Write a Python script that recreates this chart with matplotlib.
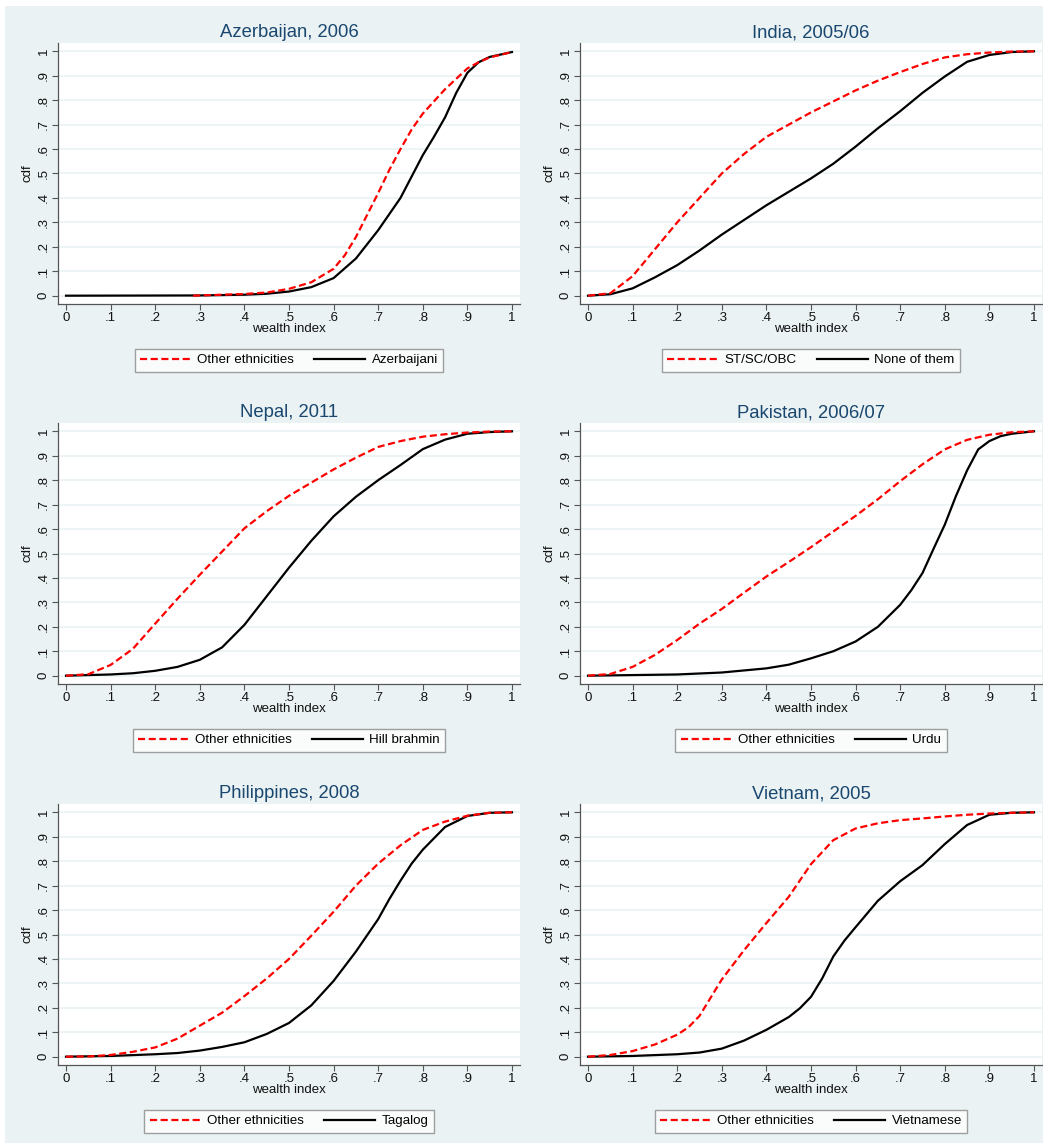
import numpy as np
import matplotlib
matplotlib.use("Agg")
import matplotlib.pyplot as plt
from matplotlib.patches import Rectangle

plt.rcParams['font.family'] = ['Liberation Sans', 'DejaVu Sans']

BG = "#EAF2F3"
NAVY = "#1A476F"

# ---- data (wealth index -> cdf) ----
titles = ["Azerbaijan, 2006", "India, 2005/06", "Nepal, 2011",
          "Pakistan, 2006/07", "Philippines, 2008", "Vietnam, 2005"]
red_labels = ["Other ethnicities", "ST/SC/OBC", "Other ethnicities",
              "Other ethnicities", "Other ethnicities", "Other ethnicities"]
black_labels = ["Azerbaijani", "None of them", "Hill brahmin",
                "Urdu", "Tagalog", "Vietnamese"]

aze_red_x = [0.285, 0.4, 0.45, 0.5, 0.55, 0.6, 0.625, 0.65, 0.675, 0.7, 0.725, 0.75, 0.775, 0.8, 0.85, 0.9, 0.925, 0.95, 1.0]
aze_red_y = [0.0, 0.007, 0.013, 0.028, 0.055, 0.11, 0.165, 0.24, 0.33, 0.42, 0.515, 0.60, 0.68, 0.745, 0.845, 0.93, 0.955, 0.975, 0.997]
aze_blk_x = [0.0, 0.3, 0.4, 0.45, 0.5, 0.55, 0.6, 0.65, 0.7, 0.75, 0.8, 0.825, 0.85, 0.875, 0.9, 0.925, 0.95, 1.0]
aze_blk_y = [0.0, 0.001, 0.004, 0.008, 0.017, 0.035, 0.072, 0.152, 0.268, 0.40, 0.575, 0.65, 0.73, 0.83, 0.912, 0.955, 0.977, 0.997]

ind_red_x = [0.0, 0.05, 0.1, 0.15, 0.2, 0.25, 0.3, 0.35, 0.4, 0.45, 0.5, 0.55, 0.6, 0.65, 0.7, 0.75, 0.8, 0.85, 0.9, 0.95, 1.0]
ind_red_y = [0.0, 0.01, 0.08, 0.19, 0.30, 0.40, 0.50, 0.58, 0.65, 0.70, 0.75, 0.795, 0.84, 0.88, 0.915, 0.948, 0.975, 0.988, 0.995, 0.999, 1.0]
ind_blk_x = [0.0, 0.05, 0.1, 0.15, 0.2, 0.25, 0.3, 0.35, 0.4, 0.45, 0.5, 0.55, 0.6, 0.65, 0.7, 0.75, 0.8, 0.85, 0.9, 0.95, 1.0]
ind_blk_y = [0.0, 0.006, 0.03, 0.075, 0.125, 0.185, 0.25, 0.31, 0.37, 0.425, 0.48, 0.54, 0.61, 0.685, 0.755, 0.83, 0.897, 0.957, 0.985, 0.997, 1.0]

nep_red_x = [0.0, 0.05, 0.1, 0.15, 0.2, 0.25, 0.3, 0.35, 0.4, 0.45, 0.5, 0.55, 0.6, 0.65, 0.7, 0.75, 0.8, 0.85, 0.9, 0.95, 1.0]
nep_red_y = [0.0, 0.006, 0.044, 0.11, 0.213, 0.315, 0.413, 0.508, 0.603, 0.673, 0.736, 0.79, 0.844, 0.892, 0.936, 0.96, 0.978, 0.988, 0.995, 0.999, 1.0]
nep_blk_x = [0.0, 0.1, 0.15, 0.2, 0.25, 0.3, 0.35, 0.4, 0.45, 0.5, 0.55, 0.6, 0.65, 0.7, 0.75, 0.8, 0.85, 0.9, 0.95, 1.0]
nep_blk_y = [0.0, 0.005, 0.01, 0.02, 0.036, 0.065, 0.116, 0.208, 0.325, 0.442, 0.552, 0.652, 0.732, 0.80, 0.862, 0.927, 0.966, 0.99, 0.997, 1.0]

pak_red_x = [0.0, 0.05, 0.1, 0.15, 0.2, 0.25, 0.3, 0.35, 0.4, 0.45, 0.5, 0.55, 0.6, 0.65, 0.7, 0.75, 0.8, 0.85, 0.9, 0.95, 1.0]
pak_red_y = [0.0, 0.007, 0.036, 0.085, 0.146, 0.213, 0.273, 0.34, 0.406, 0.465, 0.526, 0.59, 0.654, 0.722, 0.796, 0.865, 0.926, 0.965, 0.986, 0.996, 1.0]
pak_blk_x = [0.0, 0.2, 0.3, 0.4, 0.45, 0.5, 0.55, 0.6, 0.65, 0.7, 0.725, 0.75, 0.775, 0.8, 0.825, 0.85, 0.875, 0.9, 0.925, 0.95, 1.0]
pak_blk_y = [0.0, 0.005, 0.013, 0.03, 0.045, 0.071, 0.10, 0.14, 0.20, 0.29, 0.35, 0.42, 0.52, 0.618, 0.735, 0.84, 0.926, 0.96, 0.98, 0.99, 1.0]

phi_red_x = [0.0, 0.05, 0.1, 0.15, 0.2, 0.25, 0.3, 0.35, 0.4, 0.45, 0.5, 0.55, 0.6, 0.65, 0.7, 0.75, 0.8, 0.85, 0.9, 0.95, 1.0]
phi_red_y = [0.0, 0.001, 0.007, 0.02, 0.038, 0.074, 0.127, 0.18, 0.248, 0.32, 0.40, 0.495, 0.593, 0.70, 0.79, 0.865, 0.928, 0.962, 0.986, 0.998, 1.0]
phi_blk_x = [0.0, 0.1, 0.2, 0.25, 0.3, 0.35, 0.4, 0.45, 0.5, 0.55, 0.6, 0.65, 0.7, 0.725, 0.75, 0.775, 0.8, 0.85, 0.9, 0.95, 1.0]
phi_blk_y = [0.0, 0.003, 0.01, 0.015, 0.025, 0.04, 0.059, 0.093, 0.138, 0.21, 0.31, 0.43, 0.563, 0.645, 0.72, 0.79, 0.847, 0.94, 0.985, 0.998, 1.0]

vie_red_x = [0.0, 0.05, 0.1, 0.15, 0.2, 0.225, 0.25, 0.3, 0.35, 0.4, 0.45, 0.5, 0.55, 0.6, 0.65, 0.7, 0.75, 0.8, 0.85, 0.9, 0.95, 1.0]
vie_red_y = [0.0, 0.007, 0.023, 0.05, 0.09, 0.12, 0.167, 0.316, 0.436, 0.547, 0.654, 0.788, 0.886, 0.934, 0.955, 0.968, 0.975, 0.983, 0.99, 0.995, 0.998, 1.0]
vie_blk_x = [0.0, 0.1, 0.2, 0.25, 0.3, 0.35, 0.4, 0.45, 0.475, 0.5, 0.525, 0.55, 0.575, 0.6, 0.65, 0.7, 0.75, 0.8, 0.85, 0.9, 0.95, 1.0]
vie_blk_y = [0.0, 0.003, 0.01, 0.017, 0.033, 0.066, 0.11, 0.162, 0.198, 0.245, 0.32, 0.41, 0.475, 0.53, 0.638, 0.718, 0.784, 0.87, 0.948, 0.99, 0.998, 1.0]

red_x = [aze_red_x, ind_red_x, nep_red_x, pak_red_x, phi_red_x, vie_red_x]
red_y = [aze_red_y, ind_red_y, nep_red_y, pak_red_y, phi_red_y, vie_red_y]
blk_x = [aze_blk_x, ind_blk_x, nep_blk_x, pak_blk_x, phi_blk_x, vie_blk_x]
blk_y = [aze_blk_y, ind_blk_y, nep_blk_y, pak_blk_y, phi_blk_y, vie_blk_y]

ticks = [i / 10 for i in range(11)]
tick_labels = ["0", ".1", ".2", ".3", ".4", ".5", ".6", ".7", ".8", ".9", "1"]

W, H = 1043, 1143
fig = plt.figure(figsize=(W / 100, H / 100), dpi=100)
fig.patch.set_facecolor("white")
# grey graph region (thin white strip at top/left as in the export)
fig.patches.append(Rectangle((5 / W, 0), 1, 1 - 6 / H, transform=fig.transFigure,
                             facecolor=BG, edgecolor="none", zorder=-10))

lefts_px = [58, 580]
bottoms_px = [304, 684, 1065]
ax_w_px, ax_h_px = 462, 261

for k in range(6):
    row, col = divmod(k, 2)
    ax = fig.add_axes([lefts_px[col] / W, 1 - bottoms_px[row] / H,
                       ax_w_px / W, ax_h_px / H])
    ax.set_facecolor("white")
    for yv in ticks:
        ax.axhline(yv, color=BG, lw=1.2, zorder=0)

    ax.plot(red_x[k], red_y[k], color="#FF0000", lw=1.6, ls=(0, (3.2, 1.6)),
            label=red_labels[k], zorder=3, solid_joinstyle="round")
    ax.plot(blk_x[k], blk_y[k], color="black", lw=1.6, label=black_labels[k], zorder=2,
            solid_joinstyle="round")

    ax.set_xlim(-0.018, 1.018)
    ax.set_ylim(-0.034, 1.034)
    ax.set_xticks(ticks)
    ax.set_xticklabels(tick_labels)
    ax.set_yticks(ticks)
    ax.set_yticklabels(tick_labels, rotation=90, va="center")
    ax.tick_params(axis="both", direction="out", length=4, width=0.8,
                   color="#555555", labelsize=9.5, labelcolor="#111111", pad=2)
    for s in ("top", "right"):
        ax.spines[s].set_visible(False)
    for s in ("left", "bottom"):
        ax.spines[s].set_color("#555555")
        ax.spines[s].set_linewidth(0.9)

    ax.set_title(titles[k], fontsize=13.3, color=NAVY, pad=4)
    ax.set_xlabel("wealth index", fontsize=9.5, color="#111111", labelpad=-1)
    ax.set_ylabel("cdf", fontsize=9.5, color="#111111", labelpad=3)

    leg = ax.legend(loc="center", bbox_to_anchor=(0.5, -0.215), ncol=2,
                    fontsize=9.6, frameon=True, fancybox=False, handlelength=3.8,
                    columnspacing=1.5, handletextpad=0.5, borderpad=0.4,
                    borderaxespad=0)
    leg.get_frame().set_edgecolor("#888888")
    leg.get_frame().set_linewidth(1.0)

fig.savefig("out.png", dpi=100, facecolor=fig.get_facecolor())
